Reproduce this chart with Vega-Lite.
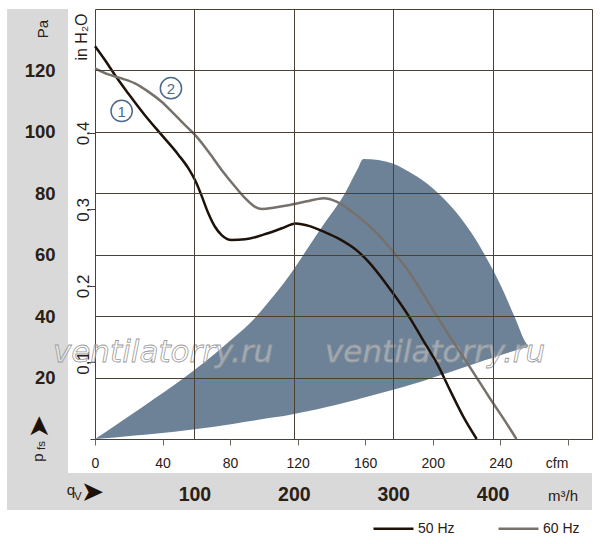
{
  "$schema": "https://vega.github.io/schema/vega-lite/v6.json",
  "description": "Fan curve: static pressure vs air flow at 50 Hz and 60 Hz",
  "width": 497,
  "height": 430,
  "autosize": "none",
  "padding": {"left": 95, "top": 9, "right": 8, "bottom": 105},
  "background": "white",
  "config": {
    "font": "Liberation Sans",
    "view": {"stroke": "#4b4036", "strokeWidth": 1},
    "axis": {"gridColor": "#4b4036", "gridWidth": 1, "gridOpacity": 1}
  },
  "data": {"values": [{}]},
  "datasets": {
    "fan": [
      {"m3h": 0, "lo": 0, "hi": 0},
      {"m3h": 20, "lo": 0.5, "hi": 4.3},
      {"m3h": 40, "lo": 1.1, "hi": 8.7},
      {"m3h": 60, "lo": 1.7, "hi": 13.2},
      {"m3h": 80, "lo": 2.4, "hi": 17.7},
      {"m3h": 100, "lo": 3.2, "hi": 22.5},
      {"m3h": 120, "lo": 4.0, "hi": 27.6},
      {"m3h": 140, "lo": 5.0, "hi": 33.1},
      {"m3h": 160, "lo": 6.0, "hi": 39.1},
      {"m3h": 175, "lo": 6.8, "hi": 44.8},
      {"m3h": 190, "lo": 7.5, "hi": 50.8},
      {"m3h": 200, "lo": 8.1, "hi": 55.3},
      {"m3h": 215, "lo": 9.1, "hi": 62.6},
      {"m3h": 230, "lo": 10.2, "hi": 69.8},
      {"m3h": 252, "lo": 11.9, "hi": 80.3},
      {"m3h": 264, "lo": 12.9, "hi": 87.8},
      {"m3h": 270, "lo": 13.4, "hi": 91.2},
      {"m3h": 285, "lo": 14.7, "hi": 90.8},
      {"m3h": 300, "lo": 16.0, "hi": 89.6},
      {"m3h": 320, "lo": 17.9, "hi": 86.2},
      {"m3h": 334, "lo": 19.3, "hi": 83.2},
      {"m3h": 345, "lo": 20.5, "hi": 80.1},
      {"m3h": 367, "lo": 22.9, "hi": 72.4},
      {"m3h": 379, "lo": 24.2, "hi": 67.0},
      {"m3h": 392, "lo": 25.6, "hi": 60.0},
      {"m3h": 407, "lo": 27.2, "hi": 50.8},
      {"m3h": 422, "lo": 28.7, "hi": 39.9},
      {"m3h": 434, "lo": 29.9, "hi": 31.1},
      {"m3h": 436, "lo": 30.1, "hi": 30.3}
    ],
    "curves": [
      {"freq": "50 Hz", "m3h": 0, "pa": 127.9},
      {"freq": "50 Hz", "m3h": 10, "pa": 123.4},
      {"freq": "50 Hz", "m3h": 20, "pa": 118.5},
      {"freq": "50 Hz", "m3h": 33.5, "pa": 112.5},
      {"freq": "50 Hz", "m3h": 50, "pa": 105.5},
      {"freq": "50 Hz", "m3h": 67, "pa": 99.0},
      {"freq": "50 Hz", "m3h": 84, "pa": 92.5},
      {"freq": "50 Hz", "m3h": 94, "pa": 88.1},
      {"freq": "50 Hz", "m3h": 100.6, "pa": 84.3},
      {"freq": "50 Hz", "m3h": 107, "pa": 79.4},
      {"freq": "50 Hz", "m3h": 114, "pa": 73.5},
      {"freq": "50 Hz", "m3h": 120.7, "pa": 69.1},
      {"freq": "50 Hz", "m3h": 127.4, "pa": 66.4},
      {"freq": "50 Hz", "m3h": 137.5, "pa": 64.8},
      {"freq": "50 Hz", "m3h": 151, "pa": 65.0},
      {"freq": "50 Hz", "m3h": 174, "pa": 67.0},
      {"freq": "50 Hz", "m3h": 188, "pa": 68.6},
      {"freq": "50 Hz", "m3h": 202, "pa": 70.2},
      {"freq": "50 Hz", "m3h": 216, "pa": 69.3},
      {"freq": "50 Hz", "m3h": 230, "pa": 67.5},
      {"freq": "50 Hz", "m3h": 246.5, "pa": 65.0},
      {"freq": "50 Hz", "m3h": 263, "pa": 61.5},
      {"freq": "50 Hz", "m3h": 276.6, "pa": 57.2},
      {"freq": "50 Hz", "m3h": 290, "pa": 51.8},
      {"freq": "50 Hz", "m3h": 303.5, "pa": 45.8},
      {"freq": "50 Hz", "m3h": 317, "pa": 39.3},
      {"freq": "50 Hz", "m3h": 330, "pa": 32.2},
      {"freq": "50 Hz", "m3h": 344, "pa": 24.6},
      {"freq": "50 Hz", "m3h": 357, "pa": 16.0},
      {"freq": "50 Hz", "m3h": 370.5, "pa": 7.3},
      {"freq": "50 Hz", "m3h": 384, "pa": 0},
      {"freq": "60 Hz", "m3h": 0, "pa": 120.7},
      {"freq": "60 Hz", "m3h": 13.4, "pa": 118.7},
      {"freq": "60 Hz", "m3h": 26.8, "pa": 117.4},
      {"freq": "60 Hz", "m3h": 40.2, "pa": 115.8},
      {"freq": "60 Hz", "m3h": 53.6, "pa": 113.1},
      {"freq": "60 Hz", "m3h": 67, "pa": 109.8},
      {"freq": "60 Hz", "m3h": 80.5, "pa": 105.5},
      {"freq": "60 Hz", "m3h": 94, "pa": 101.1},
      {"freq": "60 Hz", "m3h": 100.6, "pa": 99.0},
      {"freq": "60 Hz", "m3h": 114, "pa": 93.6},
      {"freq": "60 Hz", "m3h": 127.4, "pa": 87.6},
      {"freq": "60 Hz", "m3h": 140.8, "pa": 82.2},
      {"freq": "60 Hz", "m3h": 151, "pa": 78.4},
      {"freq": "60 Hz", "m3h": 161, "pa": 75.6},
      {"freq": "60 Hz", "m3h": 168, "pa": 74.9},
      {"freq": "60 Hz", "m3h": 181, "pa": 75.4},
      {"freq": "60 Hz", "m3h": 196, "pa": 76.2},
      {"freq": "60 Hz", "m3h": 216, "pa": 77.6},
      {"freq": "60 Hz", "m3h": 230, "pa": 78.4},
      {"freq": "60 Hz", "m3h": 243, "pa": 77.3},
      {"freq": "60 Hz", "m3h": 263, "pa": 72.9},
      {"freq": "60 Hz", "m3h": 283.4, "pa": 67.0},
      {"freq": "60 Hz", "m3h": 300, "pa": 61.0},
      {"freq": "60 Hz", "m3h": 317, "pa": 53.9},
      {"freq": "60 Hz", "m3h": 337, "pa": 43.6},
      {"freq": "60 Hz", "m3h": 357, "pa": 33.3},
      {"freq": "60 Hz", "m3h": 377, "pa": 23.5},
      {"freq": "60 Hz", "m3h": 397.4, "pa": 13.2},
      {"freq": "60 Hz", "m3h": 410.8, "pa": 6.7},
      {"freq": "60 Hz", "m3h": 424, "pa": 0}
    ],
    "tags": [
      {"tag": "1", "m3h": 26.8, "pa": 106.8},
      {"tag": "2", "m3h": 76.4, "pa": 114.2}
    ]
  },
  "layer": [
    {
      "layer": [
        {
          "mark": {"type": "rect", "color": "#d9d9d9"},
          "encoding": {
            "x": {"datum": -88.5, "type": "quantitative", "scale": {"domain": [0, 500], "nice": false}},
            "x2": {"datum": -27.2},
            "y": {"datum": 140, "type": "quantitative", "scale": {"domain": [0, 140], "nice": false}},
            "y2": {"datum": -23.1}
          }
        },
        {
          "mark": {"type": "rect", "color": "#d9d9d9"},
          "encoding": {
            "x": {"datum": -88.5, "type": "quantitative"},
            "x2": {"datum": 500},
            "y": {"datum": -11.1, "type": "quantitative"},
            "y2": {"datum": -23.1}
          }
        },
        {
          "data": {"name": "fan"},
          "mark": {"type": "area", "interpolate": "monotone", "color": "#6d8297", "opacity": 1},
          "encoding": {
            "x": {"field": "m3h", "type": "quantitative"},
            "y": {"field": "hi", "type": "quantitative"},
            "y2": {"field": "lo"}
          }
        },
        {
          "mark": {"type": "text", "text": "ventilatorry.ru", "font": "DejaVu Sans", "fontStyle": "oblique", "fontSize": 31, "align": "left", "baseline": "alphabetic", "fill": "#ffffff", "fillOpacity": 0.35, "stroke": "#9a9a9a", "strokeWidth": 0.8},
          "encoding": {"x": {"datum": -42.3, "type": "quantitative"}, "y": {"datum": 25.1, "type": "quantitative"}}
        },
        {
          "mark": {"type": "text", "text": "ventilatorry.ru", "font": "DejaVu Sans", "fontStyle": "oblique", "fontSize": 31, "align": "left", "baseline": "alphabetic", "fill": "#ffffff", "fillOpacity": 0.35, "stroke": "#9a9a9a", "strokeWidth": 0.8},
          "encoding": {"x": {"datum": 231.4, "type": "quantitative"}, "y": {"datum": 25.1, "type": "quantitative"}}
        },
        {
          "data": {"name": "curves"},
          "mark": {"type": "line", "interpolate": "monotone", "strokeWidth": 2.5},
          "encoding": {
            "x": {
              "field": "m3h", "type": "quantitative",
              "scale": {"domain": [0, 500], "nice": false},
              "axis": {
                "orient": "bottom", "title": null, "values": [100, 200, 300, 400],
                "grid": true, "domain": false, "ticks": false,
                "labelPadding": 61, "labelBaseline": "alphabetic",
                "labelFontSize": 19.5, "labelFontWeight": "bold", "labelColor": "#2a2016",
                "labelFlush": false, "labelOverlap": false, "zindex": 1
              }
            },
            "y": {
              "field": "pa", "type": "quantitative",
              "scale": {"domain": [0, 140], "nice": false},
              "axis": {
                "orient": "left", "title": "Pa", "values": [20, 40, 60, 80, 100, 120],
                "grid": true, "domain": false, "ticks": false,
                "labelPadding": 40, "labelFontSize": 18.5, "labelFontWeight": "bold", "labelColor": "#2a2016",
                "labelFlush": false, "labelOverlap": false,
                "titleAngle": 270, "titleAlign": "center", "titleBaseline": "alphabetic",
                "titleX": -48, "titleY": 19.5, "titleFontSize": 15, "titleFontWeight": "normal", "titleColor": "#2a2016",
                "zindex": 1
              }
            },
            "color": {
              "field": "freq", "type": "nominal",
              "scale": {"domain": ["50 Hz", "60 Hz"], "range": ["#1e1208", "#77716c"]},
              "legend": {
                "orient": "none", "legendX": 277, "legendY": 498, "direction": "horizontal", "title": null,
                "symbolType": "stroke", "symbolSize": 1600, "symbolStrokeWidth": 2.5,
                "labelFontSize": 14, "labelColor": "#2a2016", "labelOffset": 3, "columnPadding": 38
              }
            }
          }
        },
        {
          "data": {"name": "tags"},
          "mark": {"type": "point", "shape": "circle", "size": 452, "filled": false, "fill": "white", "stroke": "#4d6a89", "strokeWidth": 1.5, "opacity": 1},
          "encoding": {
            "x": {"field": "m3h", "type": "quantitative"},
            "y": {"field": "pa", "type": "quantitative"}
          }
        },
        {
          "data": {"name": "tags"},
          "mark": {"type": "text", "fontSize": 15, "color": "#4d6a89", "align": "center", "baseline": "middle", "dy": 1},
          "encoding": {
            "x": {"field": "m3h", "type": "quantitative"},
            "y": {"field": "pa", "type": "quantitative"},
            "text": {"field": "tag"}
          }
        },
        {
          "mark": {"type": "text", "text": "m³/h", "fontSize": 15, "align": "center", "baseline": "alphabetic", "color": "#2a2016"},
          "encoding": {"x": {"datum": 470.8, "type": "quantitative"}, "y": {"datum": -20.2, "type": "quantitative"}}
        },
        {
          "mark": {"type": "text", "text": "q", "fontSize": 15, "align": "left", "baseline": "alphabetic", "color": "#2a2016"},
          "encoding": {"x": {"datum": -28.5, "type": "quantitative"}, "y": {"datum": -18.1, "type": "quantitative"}}
        },
        {
          "mark": {"type": "text", "text": "V", "fontSize": 11.5, "align": "left", "baseline": "alphabetic", "color": "#2a2016"},
          "encoding": {"x": {"datum": -21.1, "type": "quantitative"}, "y": {"datum": -19.9, "type": "quantitative"}}
        },
        {
          "mark": {"type": "text", "text": "➤", "font": "DejaVu Sans", "fontSize": 28, "align": "center", "baseline": "middle", "color": "#1e1208"},
          "encoding": {"x": {"datum": -2.5, "type": "quantitative"}, "y": {"datum": -17.7, "type": "quantitative"}}
        },
        {
          "mark": {"type": "text", "text": "p", "fontSize": 15, "angle": 270, "align": "left", "baseline": "alphabetic", "color": "#2a2016"},
          "encoding": {"x": {"datum": -52.5, "type": "quantitative"}, "y": {"datum": -7.4, "type": "quantitative"}}
        },
        {
          "mark": {"type": "text", "text": "fs", "fontSize": 11.5, "angle": 270, "align": "left", "baseline": "alphabetic", "color": "#2a2016"},
          "encoding": {"x": {"datum": -49.8, "type": "quantitative"}, "y": {"datum": -3.6, "type": "quantitative"}}
        },
        {
          "mark": {"type": "text", "text": "➤", "font": "DejaVu Sans", "fontSize": 28, "angle": 270, "align": "center", "baseline": "middle", "color": "#1e1208"},
          "encoding": {"x": {"datum": -55.3, "type": "quantitative"}, "y": {"datum": 4.1, "type": "quantitative"}}
        }
      ]
    },
    {
      "mark": {"type": "point", "opacity": 0},
      "encoding": {
        "x": {
          "datum": 0, "type": "quantitative",
          "scale": {"domain": [0, 294.3], "nice": false},
          "axis": {
            "orient": "bottom", "title": null, "values": [0, 40, 80, 120, 160, 200, 240, 280],
            "grid": false, "domain": false, "ticks": true, "tickSize": 6, "tickColor": "#6f665e",
            "labelPadding": 22.5, "labelBaseline": "alphabetic", "labelFontSize": 14, "labelColor": "#2a2016",
            "labelExpr": "datum.value == 280 ? 'cfm' : datum.label",
            "labelAlign": {"condition": {"test": "datum.value == 280", "value": "right"}, "value": "center"},
            "labelFlush": false, "labelOverlap": false
          }
        },
        "y": {
          "datum": 0, "type": "quantitative",
          "scale": {"domain": [0, 0.56205], "nice": false},
          "axis": {
            "orient": "left", "title": "in H₂O", "values": [0, 0.1, 0.2, 0.3, 0.4], "format": ".1f",
            "labelExpr": "datum.value == 0 ? '' : replace(datum.label, '.', ',')",
            "grid": false, "domain": false, "ticks": true, "tickSize": 5, "tickColor": "#4b4036",
            "labelAngle": 270, "labelAlign": "center", "labelBaseline": "alphabetic", "labelPadding": 2,
            "labelFont": "Liberation Sans Narrow, Liberation Sans", "labelFontSize": 17, "labelColor": "#2a2016",
            "labelFlush": false, "labelOverlap": false,
            "titleAngle": 270, "titleAlign": "center", "titleBaseline": "alphabetic",
            "titleX": -9, "titleY": 27.5, "titleFont": "Liberation Sans Narrow, Liberation Sans", "titleFontSize": 16,
            "titleFontWeight": "normal", "titleColor": "#2a2016"
          }
        }
      }
    }
  ],
  "resolve": {"scale": {"x": "independent", "y": "independent"}}
}
